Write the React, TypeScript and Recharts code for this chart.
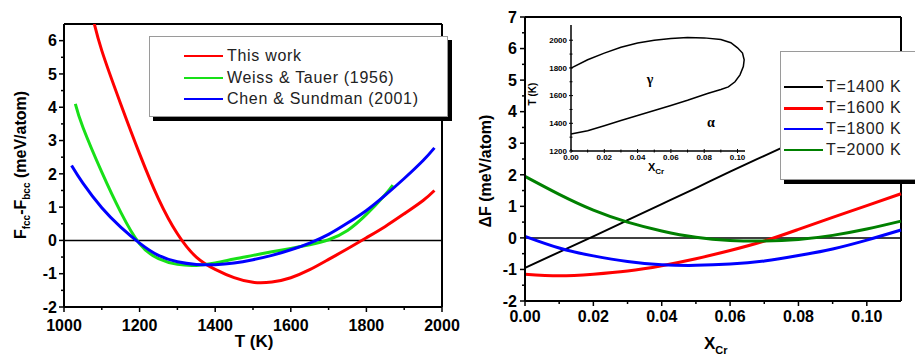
import { LineChart, Line, XAxis, YAxis, ReferenceLine, ReferenceDot, Label } from "recharts"

const FONT = "'Liberation Sans', Arial, Helvetica, sans-serif"

// left panel: F_fcc - F_bcc (meV/atom) vs T (K)
const tThisWork = [1075, 1100, 1150, 1200, 1250, 1300, 1350, 1400, 1450, 1500, 1550, 1600, 1650, 1700, 1750, 1800, 1850, 1900, 1950, 1980]
const fThisWork = [6.75, 5.7, 4.1, 2.6, 1.25, 0.2, -0.5, -0.87, -1.12, -1.26, -1.25, -1.12, -0.88, -0.57, -0.25, 0.08, 0.42, 0.8, 1.2, 1.5]
const tWeiss = [1030, 1050, 1100, 1150, 1200, 1250, 1300, 1350, 1400, 1450, 1500, 1550, 1600, 1650, 1700, 1750, 1800, 1850, 1870]
const fWeiss = [4.1, 3.4, 2.05, 0.85, -0.1, -0.55, -0.72, -0.75, -0.68, -0.56, -0.45, -0.34, -0.24, -0.13, 0.02, 0.3, 0.78, 1.38, 1.66]
const tChen = [1020, 1050, 1100, 1150, 1200, 1250, 1300, 1350, 1400, 1450, 1500, 1550, 1600, 1650, 1700, 1750, 1800, 1850, 1900, 1950, 1980]
const fChen = [2.25, 1.72, 0.98, 0.4, -0.08, -0.45, -0.64, -0.72, -0.73, -0.68, -0.58, -0.45, -0.28, -0.08, 0.18, 0.52, 0.9, 1.36, 1.86, 2.4, 2.78]

const leftNames = ["This work", "Weiss & Tauer (1956)", "Chen & Sundman (2001)"]
const leftColors = ["#ff0000", "#18e018", "#0000ff"]

const leftXTicks = [1000, 1100, 1200, 1300, 1400, 1500, 1600, 1700, 1800, 1900, 2000]
const leftXMajor = [1000, 1200, 1400, 1600, 1800, 2000]
const leftXLabels = ["1000", "1200", "1400", "1600", "1800", "2000"]
const leftYTicks = [-2, -1.5, -1, -0.5, 0, 0.5, 1, 1.5, 2, 2.5, 3, 3.5, 4, 4.5, 5, 5.5, 6]
const leftYMajor = [-2, -1, 0, 1, 2, 3, 4, 5, 6]
const leftYLabels = ["-2", "-1", "0", "1", "2", "3", "4", "5", "6"]

// right panel: ΔF vs X_Cr at four temperatures
const xCr = [0, 0.01, 0.02, 0.03, 0.04, 0.05, 0.06, 0.07, 0.08, 0.09, 0.1, 0.11]
const f1400 = [-0.95, -0.45, 0.05, 0.56, 1.07, 1.58, 2.1, 2.6, 3.1, 3.6, 4.1, 4.6]
const f1600 = [-1.15, -1.2, -1.15, -1.05, -0.88, -0.66, -0.4, -0.1, 0.27, 0.65, 1.02, 1.4]
const f1800 = [0.05, -0.32, -0.57, -0.75, -0.85, -0.87, -0.83, -0.73, -0.56, -0.35, -0.07, 0.25]
const f2000 = [1.95, 1.38, 0.88, 0.5, 0.22, 0.02, -0.08, -0.1, -0.05, 0.08, 0.28, 0.53]

const rightKeys = ["t1400", "t1600", "t1800", "t2000"]
const rightNames = ["T=1400 K", "T=1600 K", "T=1800 K", "T=2000 K"]
const rightColors = ["#000000", "#ff0000", "#0000ff", "#008000"]
const rightWidths = [2, 3, 3, 3]
const rightLegendWidths = [1.2, 3, 1.5, 1.5]

const rightXTicks = [0, 0.01, 0.02, 0.03, 0.04, 0.05, 0.06, 0.07, 0.08, 0.09, 0.1]
const rightXMajor = [0, 0.02, 0.04, 0.06, 0.08, 0.1]
const rightXLabels = ["0.00", "0.02", "0.04", "0.06", "0.08", "0.10"]
const rightYTicks = [-2, -1.5, -1, -0.5, 0, 0.5, 1, 1.5, 2, 2.5, 3, 3.5, 4, 4.5, 5, 5.5, 6, 6.5, 7]
const rightYMajor = [-2, -1, 0, 1, 2, 3, 4, 5, 6, 7]
const rightYLabels = ["-2", "-1", "0", "1", "2", "3", "4", "5", "6", "7"]

// inset: gamma loop boundary, T (K) vs X_Cr
const loopX = [0, 0.01, 0.02, 0.03, 0.04, 0.05, 0.06, 0.07, 0.08, 0.09, 0.096, 0.1, 0.103, 0.104, 0.1035, 0.1015, 0.0985, 0.0945, 0.09, 0.082, 0.07, 0.06, 0.05, 0.04, 0.03, 0.02, 0.01, 0]
const loopT = [1798, 1859, 1907, 1949, 1980, 2000, 2012, 2020, 2017, 2005, 1982, 1945, 1907, 1859, 1810, 1750, 1700, 1663, 1644, 1615, 1566, 1529, 1493, 1456, 1420, 1383, 1346, 1322]
const insetXTicks = [0, 0.01, 0.02, 0.03, 0.04, 0.05, 0.06, 0.07, 0.08, 0.09, 0.1]
const insetXMajor = [0, 0.02, 0.04, 0.06, 0.08, 0.1]
const insetXLabels = ["0.00", "0.02", "0.04", "0.06", "0.08", "0.10"]
const insetYTicks = [1200, 1300, 1400, 1500, 1600, 1700, 1800, 1900, 2000]
const insetYMajor = [1200, 1400, 1600, 1800, 2000]
const insetYLabels = ["1200", "1400", "1600", "1800", "2000"]

const leftSeries = [
  tThisWork.map((t, i) => ({ t, f: fThisWork[i] })),
  tWeiss.map((t, i) => ({ t, f: fWeiss[i] })),
  tChen.map((t, i) => ({ t, f: fChen[i] })),
]
const rightData = xCr.map((x, i) => ({ x, t1400: f1400[i], t1600: f1600[i], t1800: f1800[i], t2000: f2000[i] }))
const loopData = loopX.map((x, i) => ({ x, t: loopT[i] }))

type TickOpts = { len: number; minorLen: number; gap: number; size: number; sw: number; cross?: boolean }

function axisTick(side: "bottom" | "left", majors: number[], labels: string[], o: TickOpts) {
  return (p: any) => {
    const v = p.payload.value
    const i = majors.findIndex((m) => Math.abs(m - v) < 1e-9)
    const len = i >= 0 ? o.len : o.minorLen
    const back = o.cross ? len : 0
    if (side === "bottom") {
      return (
        <g>
          <line x1={p.x} x2={p.x} y1={p.y - back} y2={p.y + len} stroke="#000" strokeWidth={o.sw} />
          {i >= 0 && (
            <text x={p.x} y={p.y + o.gap} textAnchor="middle" fontSize={o.size} fontWeight="bold" fontFamily={FONT} fill="#000">
              {labels[i]}
            </text>
          )}
        </g>
      )
    }
    return (
      <g>
        <line x1={p.x - len} x2={p.x + back} y1={p.y} y2={p.y} stroke="#000" strokeWidth={o.sw} />
        {i >= 0 && (
          <text x={p.x - o.gap} y={p.y} dy="0.36em" textAnchor="end" fontSize={o.size} fontWeight="bold" fontFamily={FONT} fill="#000">
            {labels[i]}
          </text>
        )}
      </g>
    )
  }
}

function LegendBox({ names, colors, widths, box, rowTop, rowStep, swLeft, swWidth, textLeft }: any) {
  return (
    <div
      style={{
        position: "absolute",
        ...box,
        boxSizing: "border-box",
        background: "#fff",
        border: "1px solid #9a9a9a",
        boxShadow: "4px 4px 0 #000",
        fontFamily: FONT,
        fontSize: 16,
        letterSpacing: 0.7,
        color: "#222",
      }}
    >
      {names.map((n: string, i: number) => (
        <div key={n} style={{ position: "absolute", left: 0, top: rowTop + i * rowStep - 10, height: 20, width: "100%" }}>
          <div style={{ position: "absolute", left: swLeft, width: swWidth, top: 10 - widths[i] / 2, height: widths[i], background: colors[i] }} />
          <div style={{ position: "absolute", left: textLeft, top: 0, lineHeight: "20px", whiteSpace: "nowrap" }}>{n}</div>
        </div>
      ))}
    </div>
  )
}

export default function App() {
  return (
    <div style={{ position: "absolute", left: 0, top: 0, width: 915, height: 358, background: "#fff", overflow: "hidden" }}>
      {/* left panel */}
      <div style={{ position: "absolute", left: 0, top: 0 }}>
        <LineChart width={460} height={358} margin={{ top: 24, right: 18, bottom: 0, left: 24 }}>
          <XAxis
            dataKey="t"
            type="number"
            domain={[1000, 2000]}
            ticks={leftXTicks}
            interval={0}
            height={51}
            tickSize={0}
            tickMargin={0}
            tickLine={false}
            axisLine={{ stroke: "#000", strokeWidth: 2 }}
            tick={axisTick("bottom", leftXMajor, leftXLabels, { len: 5, minorLen: 3, gap: 24, size: 16, sw: 1.5 })}
            allowDuplicatedCategory={false}
          >
            <Label
              content={() => (
                <text x={254} y={347} textAnchor="middle" fontSize={17} fontWeight="bold" fontFamily={FONT} fill="#000">
                  T (K)
                </text>
              )}
            />
          </XAxis>
          <YAxis
            type="number"
            domain={[-2, 6.5]}
            allowDataOverflow
            ticks={leftYTicks}
            interval={0}
            width={40}
            tickSize={0}
            tickMargin={0}
            tickLine={false}
            axisLine={{ stroke: "#000", strokeWidth: 2 }}
            tick={axisTick("left", leftYMajor, leftYLabels, { len: 5, minorLen: 3, gap: 7, size: 16, sw: 1.5 })}
          >
            <Label
              content={() => (
                <text x={20} y={165} transform="rotate(-90 20 165)" textAnchor="middle" dy="0.36em" fontSize={16} fontWeight="bold" fontFamily={FONT} fill="#000">
                  F<tspan fontSize={10} dy={4}>fcc</tspan>
                  <tspan dy={-4}>-F</tspan>
                  <tspan fontSize={10} dy={4}>bcc</tspan>
                  <tspan dy={-4}> (meV/atom)</tspan>
                </text>
              )}
            />
          </YAxis>
          <ReferenceLine y={0} stroke="#000" strokeWidth={1.5} ifOverflow="visible" />
          <ReferenceLine y={6.5} stroke="#000" strokeWidth={2} ifOverflow="visible" />
          <ReferenceLine x={2000} stroke="#000" strokeWidth={2} ifOverflow="visible" />
          {leftSeries.map((d, i) => (
            <Line
              key={leftNames[i]}
              data={d}
              dataKey="f"
              name={leftNames[i]}
              type="natural"
              stroke={leftColors[i]}
              strokeWidth={3}
              dot={false}
              activeDot={false}
              isAnimationActive={false}
            />
          ))}
        </LineChart>
      </div>
      <LegendBox
        names={leftNames}
        colors={leftColors}
        widths={[2, 2, 2]}
        box={{ left: 149, top: 36, width: 299, height: 81 }}
        rowTop={19}
        rowStep={21.5}
        swLeft={34}
        swWidth={39}
        textLeft={77}
      />

      {/* right panel */}
      <div style={{ position: "absolute", left: 455, top: 0 }}>
        <LineChart width={460} height={358} data={rightData} margin={{ top: 17, right: 14, bottom: 0, left: 30 }}>
          <XAxis
            dataKey="x"
            type="number"
            domain={[0, 0.11]}
            ticks={rightXTicks}
            interval={0}
            height={57}
            tickSize={0}
            tickMargin={0}
            tickLine={false}
            axisLine={{ stroke: "#000", strokeWidth: 2 }}
            tick={axisTick("bottom", rightXMajor, rightXLabels, { len: 5, minorLen: 3, gap: 21, size: 16, sw: 1.5 })}
          >
            <Label
              content={() => (
                <text x={249} y={349} fontSize={17} fontWeight="bold" fontFamily={FONT} fill="#000">
                  X<tspan fontSize={11} dy={5}>Cr</tspan>
                </text>
              )}
            />
          </XAxis>
          <YAxis
            type="number"
            domain={[-2, 7]}
            allowDataOverflow
            ticks={rightYTicks}
            interval={0}
            width={40}
            tickSize={0}
            tickMargin={0}
            tickLine={false}
            axisLine={{ stroke: "#000", strokeWidth: 2 }}
            tick={axisTick("left", rightYMajor, rightYLabels, { len: 5, minorLen: 3, gap: 8, size: 16, sw: 1.5 })}
          >
            <Label
              content={() => (
                <text x={30} y={171} transform="rotate(-90 30 171)" textAnchor="middle" dy="0.36em" fontSize={16} fontWeight="bold" fontFamily={FONT} fill="#000">
                  ΔF (meV/atom)
                </text>
              )}
            />
          </YAxis>
          <ReferenceLine y={0} stroke="#000" strokeWidth={1.5} ifOverflow="visible" />
          <ReferenceLine y={7} stroke="#000" strokeWidth={2} ifOverflow="visible" />
          <ReferenceLine x={0.11} stroke="#000" strokeWidth={2} ifOverflow="visible" />
          {rightKeys.map((k, i) => (
            <Line
              key={k}
              dataKey={k}
              name={rightNames[i]}
              type="natural"
              stroke={rightColors[i]}
              strokeWidth={rightWidths[i]}
              dot={false}
              activeDot={false}
              isAnimationActive={false}
            />
          ))}
        </LineChart>
      </div>
      <LegendBox
        names={rightNames}
        colors={rightColors}
        widths={rightLegendWidths}
        box={{ left: 780, top: 51, width: 140, height: 129 }}
        rowTop={35}
        rowStep={21}
        swLeft={3}
        swWidth={39}
        textLeft={45}
      />

      {/* inset */}
      <div style={{ position: "absolute", left: 520, top: 10 }}>
        <LineChart width={240} height={175} data={loopData} margin={{ top: 15, right: 15, bottom: 0, left: 21 }}>
          <XAxis
            dataKey="x"
            type="number"
            domain={[0, 0.1045]}
            ticks={insetXTicks}
            interval={0}
            height={34}
            tickSize={0}
            tickMargin={0}
            tickLine={false}
            axisLine={{ stroke: "#000", strokeWidth: 1.5 }}
            tick={axisTick("bottom", insetXMajor, insetXLabels, { len: 2, minorLen: 1.5, gap: 9, size: 8, sw: 1, cross: true })}
          >
            <Label
              content={() => (
                <text x={128} y={161} fontSize={11} fontWeight="bold" fontFamily={FONT} fill="#000">
                  X<tspan fontSize={8} dy={3}>Cr</tspan>
                </text>
              )}
            />
          </XAxis>
          <YAxis
            type="number"
            domain={[1200, 2110]}
            ticks={insetYTicks}
            interval={0}
            width={30}
            tickSize={0}
            tickMargin={0}
            tickLine={false}
            axisLine={{ stroke: "#000", strokeWidth: 1.5 }}
            tick={axisTick("left", insetYMajor, insetYLabels, { len: 2, minorLen: 1.5, gap: 4, size: 8, sw: 1, cross: true })}
          >
            <Label
              content={() => (
                <text x={12} y={84} transform="rotate(-90 12 84)" textAnchor="middle" dy="0.36em" fontSize={10} fontWeight="bold" fontFamily={FONT} fill="#000">
                  T (K)
                </text>
              )}
            />
          </YAxis>
          <ReferenceDot x={0.0474} y={1718} r={0} fill="none" stroke="none" label={{ value: "γ", position: "center", fontSize: 14, fontWeight: "bold", fill: "#000" }} />
          <ReferenceDot x={0.084} y={1409} r={0} fill="none" stroke="none" label={{ value: "α", position: "center", fontSize: 14, fontWeight: "bold", fill: "#000" }} />
          <Line dataKey="t" type="linear" stroke="#000" strokeWidth={1.5} dot={false} activeDot={false} isAnimationActive={false} />
        </LineChart>
      </div>
    </div>
  )
}
